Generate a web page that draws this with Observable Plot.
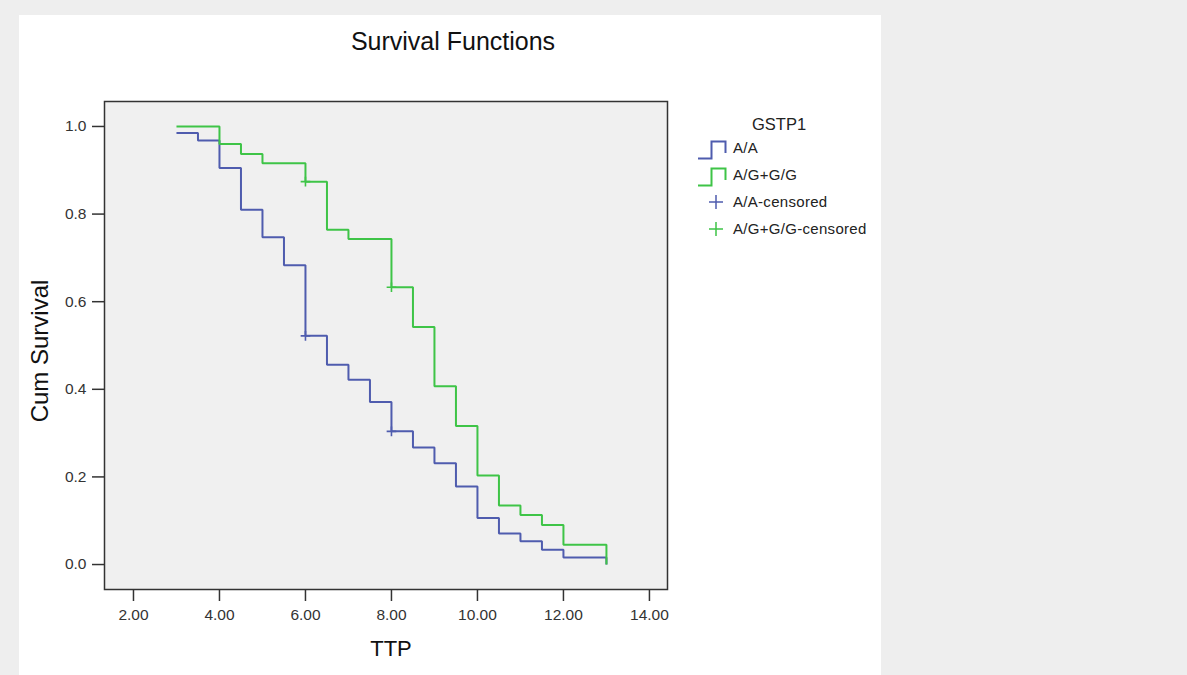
<!DOCTYPE html>
<html>
<head>
<meta charset="utf-8">
<script src="https://cdn.jsdelivr.net/npm/d3@7"></script>
<script src="https://cdn.jsdelivr.net/npm/@observablehq/plot@0.6"></script>
<style>
  html, body { margin: 0; padding: 0; background: #eeeeee; width: 1187px; height: 675px; overflow: hidden; }
  body { font-family: "Liberation Sans", Arial, sans-serif; position: relative; }
  #panel { position: absolute; left: 19px; top: 15px; width: 862px; height: 660px; background: #ffffff; }
  #chart { position: absolute; left: 0; top: 0; }
  .title { position: absolute; left: 0; width: 868px; top: 12px; text-align: center; font-size: 25px; color: #111; }
  .ylab { position: absolute; left: 21px; top: 336px; width: 0; height: 0; }
  .ylab span { position: absolute; transform: translate(-50%, -50%) rotate(-90deg); white-space: nowrap; font-size: 24px; color: #111; }
  .xlab { position: absolute; left: 372px; top: 621px; transform: translateX(-50%); font-size: 22px; color: #111; }
  .legend { position: absolute; left: 678px; top: 96px; font-size: 15px; letter-spacing: 0.3px; color: #222; }
  .legend .head { position: absolute; left: 55px; top: 4px; font-size: 16.5px; letter-spacing: 0; white-space: nowrap; }
  .legend .row { position: absolute; left: 0; white-space: nowrap; height: 24px; }
  .legend .row svg { position: absolute; left: 0; top: 0; }
  .legend .row span { position: absolute; left: 36px; top: 3px; }
</style>
</head>
<body>
<div id="panel">
  <div class="title">Survival Functions</div>
  <div id="chart"></div>
  <div class="ylab"><span>Cum Survival</span></div>
  <div class="xlab">TTP</div>
  <div class="legend" id="legend"></div>
</div>
<script>
// Kaplan-Meier estimates of time to progression (TTP) by GSTP1 genotype
const groups = ["A/A", "A/G+G/G"];
const colors = ["#4f5cae", "#3ec447"];

const timeAA = [3, 3.5, 4, 4.5, 5, 5.5, 6, 6.5, 7, 7.5, 8, 8.5, 9, 9.5, 10, 10.5, 11, 11.5, 12, 13];
const survAA = [0.985, 0.968, 0.905, 0.810, 0.747, 0.683, 0.522, 0.456, 0.422, 0.371, 0.304, 0.267, 0.231, 0.178, 0.106, 0.071, 0.053, 0.034, 0.016, 0.0];

const timeAG = [3, 4, 4.5, 5, 6, 6.5, 7, 8, 8.5, 9, 9.5, 10, 10.5, 11, 11.5, 12, 13];
const survAG = [1.0, 0.960, 0.937, 0.916, 0.874, 0.764, 0.743, 0.633, 0.542, 0.407, 0.316, 0.203, 0.135, 0.113, 0.090, 0.045, 0.0];

// censored observations (time, cumulative survival at that time)
const censTimeAA = [6, 8];
const censSurvAA = [0.522, 0.304];
const censTimeAG = [6, 8];
const censSurvAG = [0.874, 0.633];

const xTicks = [2, 4, 6, 8, 10, 12, 14];
const yTicks = [0, 0.2, 0.4, 0.6, 0.8, 1.0];
const xDomain = [1.326, 14.42];
const yDomain = [-0.057, 1.057];

const legendTitle = "GSTP1";
const legendLabels = ["A/A", "A/G+G/G", "A/A-censored", "A/G+G/G-censored"];

const curves = [
  ...timeAA.map((t, i) => ({group: groups[0], time: t, surv: survAA[i]})),
  ...timeAG.map((t, i) => ({group: groups[1], time: t, surv: survAG[i]}))
];
const censored = [
  ...censTimeAA.map((t, i) => ({group: groups[0], time: t, surv: censSurvAA[i]})),
  ...censTimeAG.map((t, i) => ({group: groups[1], time: t, surv: censSurvAG[i]}))
];

const chart = Plot.plot({
  width: 862,
  height: 660,
  marginLeft: 85,
  marginRight: 214,
  marginTop: 86,
  marginBottom: 86,
  style: {background: "transparent", fontFamily: "Liberation Sans, Arial, sans-serif", fontSize: "15.5px", color: "#333"},
  x: {domain: xDomain},
  y: {domain: yDomain},
  color: {domain: groups, range: colors},
  marks: [
    Plot.frame({fill: "#f0f0f0", stroke: "none"}),
    Plot.line(curves, {x: "time", y: "surv", z: "group", stroke: "group", curve: "step-after", strokeWidth: 2, strokeLinejoin: "miter", strokeLinecap: "butt"}),
    Plot.dot(censored, {x: "time", y: "surv", stroke: "group", symbol: "plus", r: 3.2, strokeWidth: 1.6}),
    Plot.axisX({ticks: xTicks, tickFormat: d => d.toFixed(2), tickSize: 12, tickPadding: 7, label: null, strokeWidth: 1.5, fontSize: 15.5}),
    Plot.axisY({ticks: yTicks, tickFormat: d => d.toFixed(1), tickSize: 12, tickPadding: 6, label: null, strokeWidth: 1.5, fontSize: 15.5}),
    Plot.frame({stroke: "#333333", strokeWidth: 1.5})
  ]
});
document.getElementById("chart").appendChild(chart);

// legend: step icons for the curves, plus signs for censored cases
const legend = d3.select("#legend");
legend.append("div").attr("class", "head").text(legendTitle);
const rowTops = [25, 52, 79, 106];
legendLabels.forEach((label, i) => {
  const row = legend.append("div").attr("class", "row").style("top", rowTops[i] + "px");
  const svg = row.append("svg").attr("width", 32).attr("height", 24);
  const color = colors[i % 2];
  if (i < 2) {
    svg.append("path")
      .attr("d", "M1,22.5H14.5V5.5H28.5V17")
      .attr("fill", "none").attr("stroke", color).attr("stroke-width", 2);
  } else {
    svg.append("path")
      .attr("d", "M19,12H33M26,5V19")
      .attr("transform", "translate(-7,0)")
      .attr("fill", "none").attr("stroke", color).attr("stroke-width", 1.5);
  }
  row.append("span").text(label);
});
</script>
</body>
</html>
